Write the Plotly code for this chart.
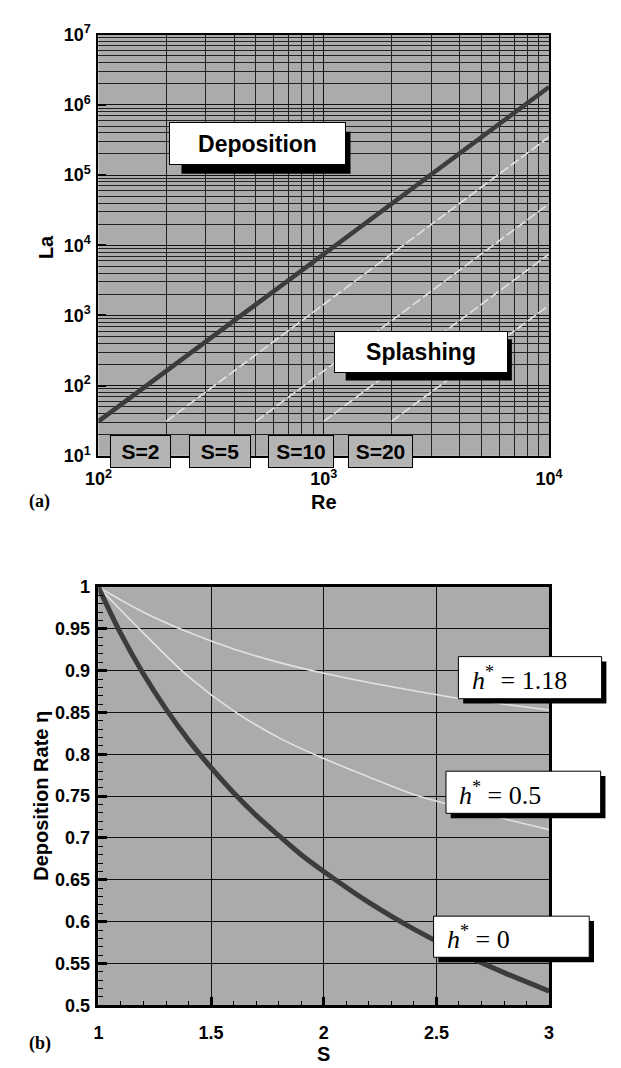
import plotly.graph_objects as go

W, H = 621, 1068

# ---------------- data: panel (a) ----------------
re_dep = [100, 10000]
la_dep = [31, 1.8e6]
re_s2 = [200, 10000]
la_s2 = [31, 3.5e5]
re_s5 = [500, 10000]
la_s5 = [31, 3.9e4]
re_s10 = [1000, 10000]
la_s10 = [31, 7.5e3]
re_s20 = [2000, 10000]
la_s20 = [31, 1.4e3]
s_labels = ["S=2", "S=5", "S=10", "S=20"]
re_ticks = [1e2, 1e3, 1e4]
re_ticktext = ["10<sup>2</sup>", "10<sup>3</sup>", "10<sup>4</sup>"]
la_ticks = [1e1, 1e2, 1e3, 1e4, 1e5, 1e6, 1e7]
la_ticktext = ["10<sup>%d</sup>" % k for k in range(1, 8)]

# ---------------- data: panel (b) ----------------
s_vals = [1.0, 1.1, 1.2, 1.3, 1.4, 1.5, 1.6, 1.7, 1.8, 1.9, 2.0, 2.2, 2.4, 2.6, 2.8, 3.0]
eta_h0 = [1.000, 0.944, 0.896, 0.854, 0.817, 0.784, 0.754, 0.727, 0.703, 0.680, 0.660,
          0.623, 0.591, 0.563, 0.539, 0.517]
s_vals2 = [1.0, 1.2, 1.4, 1.6, 1.8, 2.0, 2.2, 2.4, 2.6, 2.8, 3.0]
eta_h05 = [1.000, 0.945, 0.893, 0.852, 0.820, 0.795, 0.773, 0.752, 0.737, 0.723, 0.710]
eta_h118 = [1.000, 0.970, 0.946, 0.926, 0.910, 0.897, 0.886, 0.876, 0.867, 0.860, 0.853]
s_ticks = [1, 1.5, 2, 2.5, 3]
s_ticktext = ["1", "1.5", "2", "2.5", "3"]
eta_ticks = [0.5, 0.55, 0.6, 0.65, 0.7, 0.75, 0.8, 0.85, 0.9, 0.95, 1.0]
eta_ticktext = ["0.5", "0.55", "0.6", "0.65", "0.7", "0.75", "0.8", "0.85", "0.9", "0.95", "1"]
h_labels = ["<i>h</i><sup>*</sup> = 1.18", "<i>h</i><sup>*</sup> = 0.5", "<i>h</i><sup>*</sup> = 0"]

# ---------------- layout helpers ----------------
def px(x):
    return x / W

def py(y):
    return 1 - y / H

PL, PR = 80, 552
TOP_A, BOT_A = 15, 445
TOP_B, BOT_B = 579, 1006

BG = "#ababab"
DARK = "#3c3c3c"
LIGHT = "#e2e2e2"
SANS = "Liberation Sans"

fig = go.Figure()

# panel (a) traces
fig.add_trace(go.Scatter(x=re_dep, y=la_dep, mode="lines", line=dict(color=DARK, width=4.5),
                         xaxis="x", yaxis="y", showlegend=False))
for rx, ly in [(re_s2, la_s2), (re_s5, la_s5), (re_s10, la_s10), (re_s20, la_s20)]:
    fig.add_trace(go.Scatter(x=rx, y=ly, mode="lines",
                             line=dict(color=LIGHT, width=1.6, dash="10px,3px"),
                             xaxis="x", yaxis="y", showlegend=False))

# panel (b) traces
fig.add_trace(go.Scatter(x=s_vals2, y=eta_h118, mode="lines", line=dict(color=LIGHT, width=1.6, shape="spline"),
                         xaxis="x2", yaxis="y2", showlegend=False))
fig.add_trace(go.Scatter(x=s_vals2, y=eta_h05, mode="lines", line=dict(color=LIGHT, width=1.6, shape="spline"),
                         xaxis="x2", yaxis="y2", showlegend=False))
fig.add_trace(go.Scatter(x=s_vals, y=eta_h0, mode="lines", line=dict(color=DARK, width=5, shape="spline"),
                         xaxis="x2", yaxis="y2", showlegend=False))

minor_re = [m * 10 ** e for e in (2, 3) for m in range(2, 10)]
minor_la = [m * 10 ** e for e in range(1, 7) for m in range(2, 10)]

tickfont = dict(family=SANS, size=18, color="black", weight="bold")

fig.update_layout(
    width=W, height=H,
    margin=dict(l=0, r=0, t=0, b=0),
    paper_bgcolor="white",
    plot_bgcolor=BG,
    showlegend=False,
    xaxis=dict(type="log", range=[2, 4], domain=[px(PL), px(PR)], anchor="y",
               tickmode="array", tickvals=re_ticks, ticktext=re_ticktext,
               showgrid=True, gridcolor="#111", gridwidth=1,
               minor=dict(tickmode="array", tickvals=minor_re, showgrid=True, gridcolor="#222", gridwidth=0.8, ticks=""),
               showline=True, mirror=True, linecolor="black", linewidth=2,
               ticks="", tickfont=tickfont, ticklabelstandoff=6, zeroline=False),
    yaxis=dict(type="log", range=[1, 7], domain=[py(BOT_A), py(TOP_A)], anchor="x",
               tickmode="array", tickvals=la_ticks, ticktext=la_ticktext,
               showgrid=True, gridcolor="#111", gridwidth=1,
               minor=dict(tickmode="array", tickvals=minor_la, showgrid=True, gridcolor="#222", gridwidth=0.8, ticks=""),
               showline=True, mirror=True, linecolor="black", linewidth=2,
               ticks="inside", ticklen=8, tickwidth=2, tickcolor="black",
               tickfont=tickfont, ticklabelstandoff=2, zeroline=False),
    xaxis2=dict(range=[1, 3], domain=[px(PL), px(PR)], anchor="y2",
                tickmode="array", tickvals=s_ticks, ticktext=s_ticktext,
                showgrid=True, gridcolor="#111", gridwidth=1,
                minor=dict(dtick=0.1, ticks="inside", ticklen=5, tickwidth=1, tickcolor="black", showgrid=False),
                showline=True, mirror=True, linecolor="black", linewidth=2.5,
                ticks="inside", ticklen=9, tickwidth=2.5, tickcolor="black",
                tickfont=tickfont, ticklabelstandoff=9, zeroline=False),
    yaxis2=dict(range=[0.5, 1.0], domain=[py(BOT_B), py(TOP_B)], anchor="x2",
                tickmode="array", tickvals=eta_ticks, ticktext=eta_ticktext,
                showgrid=True, gridcolor="#111", gridwidth=1,
                minor=dict(dtick=0.01, ticks="inside", ticklen=5, tickwidth=1, tickcolor="black", showgrid=False),
                showline=True, mirror=True, linecolor="black", linewidth=2.5,
                ticks="inside", ticklen=9, tickwidth=2.5, tickcolor="black",
                tickfont=tickfont, ticklabelstandoff=2, zeroline=False),
)

shapes = []
annotations = []

def shadow_box(x0, y0, x1, y1, off, text, font):
    shapes.append(dict(type="rect", xref="paper", yref="paper",
                       x0=px(x0 + off), x1=px(x1 + off), y0=py(y1 + off), y1=py(y0 + off),
                       fillcolor="black", line=dict(width=0), layer="above"))
    annotations.append(dict(xref="paper", yref="paper", x=px((x0 + x1) / 2), y=py((y0 + y1) / 2),
                            xanchor="center", yanchor="middle", text=text, showarrow=False,
                            width=x1 - x0 - 2, height=y1 - y0 - 2, bgcolor="white",
                            bordercolor="black", borderwidth=1, borderpad=0, font=font))

bold_big = dict(family=SANS, size=23, color="black", weight="bold")
shadow_box(158, 105, 335, 148, 9, "Deposition", bold_big)
shadow_box(331, 318, 505, 360, 8, "Splashing", bold_big)

serif = dict(family="Liberation Serif", size=26, color="black")
hbox = [(457, 650, 607, 693), (444, 767, 606, 810), (431, 915, 594, 957)]
for (x0, y0, x1, y1), t in zip(hbox, h_labels):
    shapes.append(dict(type="rect", xref="paper", yref="paper",
                       x0=px(x0 + 5), x1=px(x1 + 5), y0=py(y1 + 5), y1=py(y0 + 5),
                       fillcolor="black", line=dict(width=0), layer="above"))
    annotations.append(dict(xref="paper", yref="paper", x=px(x0 + 12), y=py((y0 + y1) / 2 + 1),
                            xanchor="left", yanchor="middle", text=t, showarrow=False, font=serif))
    shapes.append(dict(type="rect", xref="paper", yref="paper",
                       x0=px(x0), x1=px(x1), y0=py(y1), y1=py(y0),
                       fillcolor="white", line=dict(color="black", width=1), layer="above"))

# S labels boxes
s_boxes = [(94, 155), (176, 238), (259, 325), (343, 408)]
for (x0, x1), t in zip(s_boxes, s_labels):
    annotations.append(dict(xref="paper", yref="paper", x=px((x0 + x1) / 2), y=py(440.5),
                            xanchor="center", yanchor="middle", text=t, showarrow=False,
                            width=x1 - x0 - 2, height=31, bgcolor="#b4b4b4",
                            bordercolor="black", borderwidth=1, borderpad=0,
                            font=dict(family=SANS, size=21, color="black", weight="bold")))

title_font = dict(family=SANS, size=20, color="black", weight="bold")
annotations += [
    dict(xref="paper", yref="paper", x=px(25), y=py(232), text="La", textangle=-90,
         showarrow=False, font=title_font, xanchor="center", yanchor="middle"),
    dict(xref="paper", yref="paper", x=px((PL + PR) / 2), y=py(492), text="Re",
         showarrow=False, font=title_font, xanchor="center", yanchor="middle"),
    dict(xref="paper", yref="paper", x=px(5), y=py(492), text="<b>(a)</b>",
         showarrow=False, font=dict(family="Liberation Serif", size=18, color="black"),
         xanchor="left", yanchor="middle"),
    dict(xref="paper", yref="paper", x=px(20), y=py(792), text="Deposition Rate η", textangle=-90,
         showarrow=False, font=dict(family=SANS, size=20, color="black", weight="bold"),
         xanchor="center", yanchor="middle"),
    dict(xref="paper", yref="paper", x=px((PL + PR) / 2), y=py(1056), text="S",
         showarrow=False, font=title_font, xanchor="center", yanchor="middle"),
    dict(xref="paper", yref="paper", x=px(5), y=py(1045), text="<b>(b)</b>",
         showarrow=False, font=dict(family="Liberation Serif", size=18, color="black"),
         xanchor="left", yanchor="middle"),
]

fig.update_layout(shapes=shapes, annotations=annotations)
fig.write_html("out.html")
